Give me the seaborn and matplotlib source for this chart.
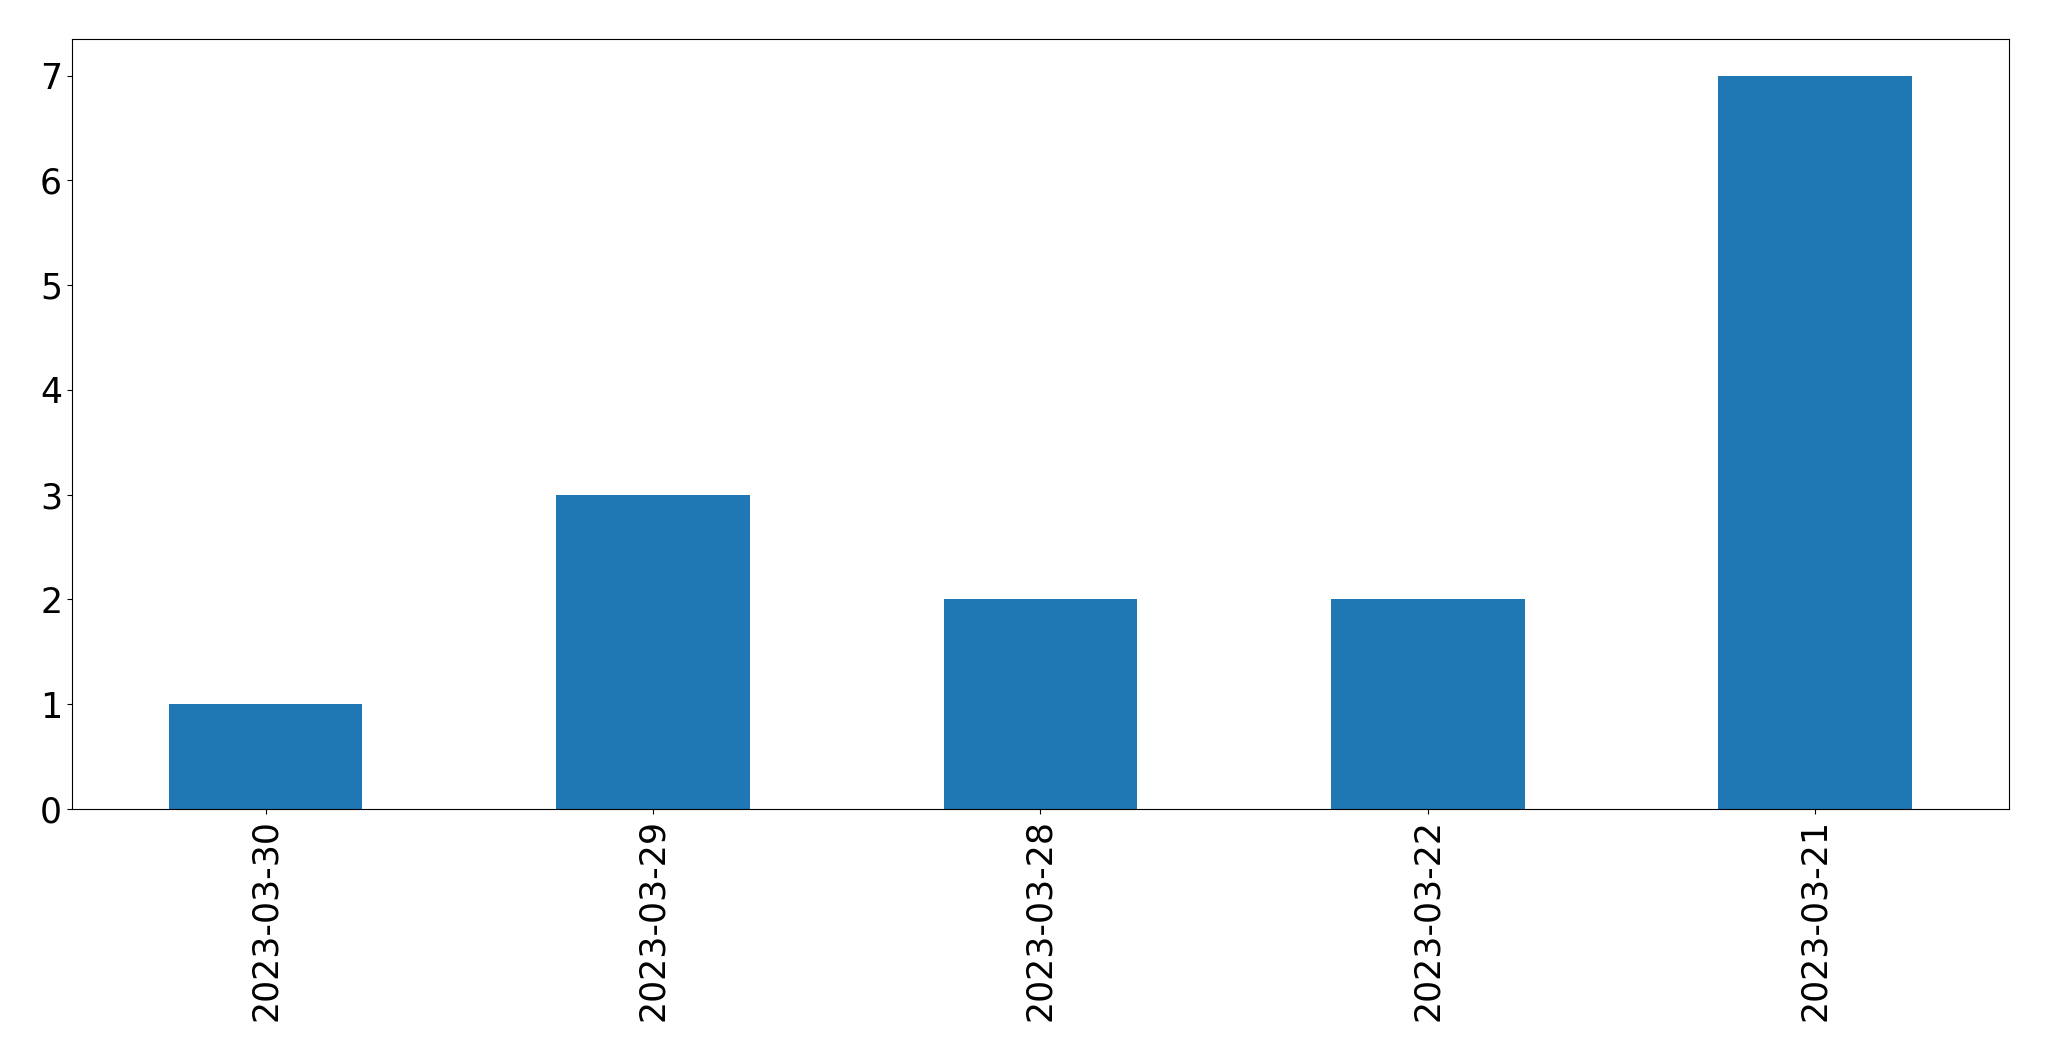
import numpy as np
import pandas as pd
import matplotlib
matplotlib.use("Agg")
import matplotlib.pyplot as plt
import seaborn as sns

# Data
dates = ["2023-03-30", "2023-03-29", "2023-03-28", "2023-03-22", "2023-03-21"]
counts = [1, 3, 2, 2, 7]

df = pd.DataFrame({"date": dates, "count": counts})

plt.rcParams["font.family"] = ["DejaVu Sans"]
plt.rcParams["font.size"] = 25

fig = plt.figure(figsize=(20.49, 10.61), dpi=100)
ax = fig.add_axes([0.0351, 0.2375, 0.9454, 0.7257])

sns.barplot(data=df, x="date", y="count", order=dates, color="#1f77b4",
            saturation=1, width=0.5, ax=ax)

ax.set_xlabel("")
ax.set_ylabel("")
ax.set_xlim(-0.5, len(dates) - 0.5)
ax.set_ylim(0, 7.35)
ax.tick_params(axis="both", labelsize=25)
plt.setp(ax.get_xticklabels(), rotation=90)

fig.savefig("out.png", dpi=100)
